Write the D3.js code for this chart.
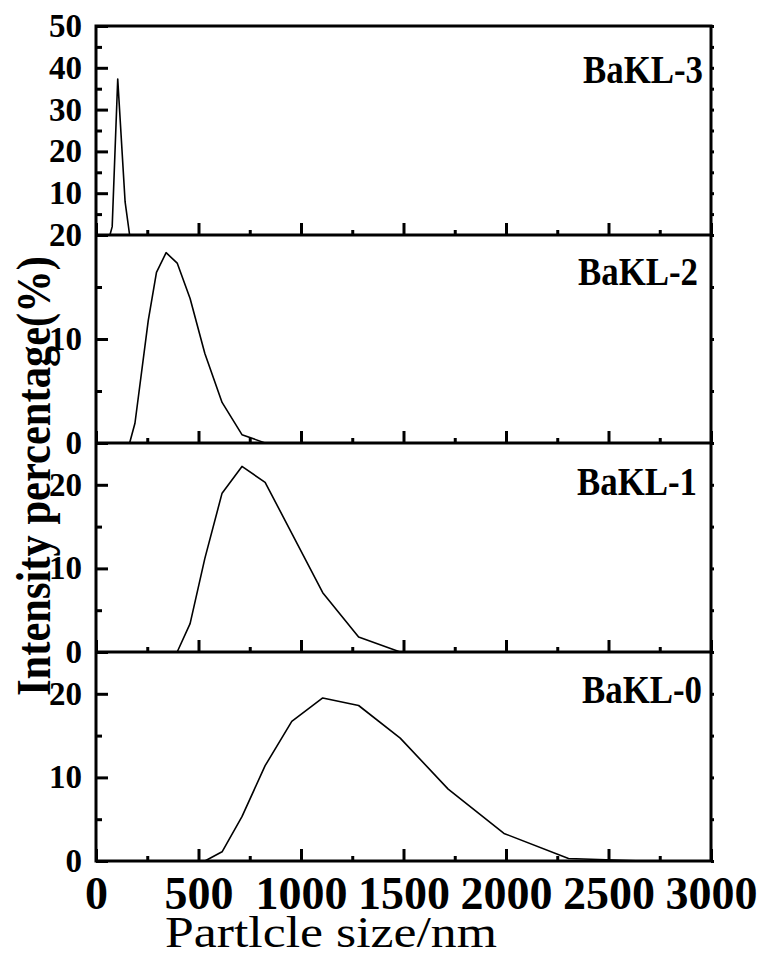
<!DOCTYPE html>
<html>
<head>
<meta charset="utf-8">
<script src="https://cdn.jsdelivr.net/npm/d3@7"></script>
<style>
  body { margin: 0; background: #fff; }
  svg { display: block; }
  text { font-family: "Liberation Serif", "Times New Roman", serif; }
</style>
</head>
<body>
<svg id="chart" width="764" height="969"></svg>
<script>
const width = 764, height = 969;

// data (size in nm, intensity in %)
const sizes3 = [68, 79, 106, 142, 164];
const vals3  = [0, 2.0, 37.3, 7.9, 0];
const sizes2 = [164, 190, 255, 295, 342, 396, 459, 531, 615, 712, 825];
const vals2  = [0, 1.9, 11.8, 16.4, 18.3, 17.3, 13.9, 8.6, 3.9, 0.8, 0];
const sizes1 = [396, 459, 531, 615, 712, 825, 1106, 1281, 1484];
const vals1  = [0, 3.4, 11.2, 19.0, 22.2, 20.3, 7.1, 1.8, 0];
const sizes0 = [531, 615, 712, 825, 955, 1106, 1281, 1484, 1718, 1990, 2305, 2669];
const vals0  = [0, 1.1, 5.3, 11.4, 16.7, 19.5, 18.6, 14.7, 8.6, 3.3, 0.3, 0];

const names = ["BaKL-3", "BaKL-2", "BaKL-1", "BaKL-0"];
const yMax = [50, 20, 25, 25];
const yLabels = [[10, 20, 30, 40, 50], [0, 10, 20], [0, 10, 20], [0, 10, 20]];
const xTicks = [0, 500, 1000, 1500, 2000, 2500, 3000];

const series = [
  { x: sizes3, y: vals3 },
  { x: sizes2, y: vals2 },
  { x: sizes1, y: vals1 },
  { x: sizes0, y: vals0 }
];

const left = 96, right = 711;
const tops = [26, 235, 443, 652];
const bottoms = [235, 443, 652, 861];

const svg = d3.select("#chart");
svg.append("rect").attr("width", width).attr("height", height).attr("fill", "#fff");

const x = d3.scaleLinear().domain([0, 3000]).range([left, right]);
const xMinor = d3.range(250, 3000, 500);

series.forEach((s, i) => {
  const y = d3.scaleLinear().domain([0, yMax[i]]).range([bottoms[i], tops[i]]);
  const minor = d3.range(5, yMax[i] + 0.1, 10);
  const allY = d3.range(0, yMax[i] + 0.1, 5);
  const g = svg.append("g");

  // curve
  const pts = s.x.map((v, k) => [v, s.y[k]]);
  g.append("path")
    .datum(pts)
    .attr("fill", "none")
    .attr("stroke", "#000")
    .attr("stroke-width", 1.6)
    .attr("stroke-linejoin", "round")
    .attr("d", d3.line().x(d => x(d[0])).y(d => y(d[1])));

  // left axis, ticks pointing in
  const la = g.append("g").attr("transform", `translate(${left},0)`)
    .call(d3.axisLeft(y).tickValues(yLabels[i]).tickSize(-12).tickPadding(14).tickFormat(d3.format("d")));
  la.append("g").call(d3.axisLeft(y).tickValues(minor).tickSize(-6).tickFormat(""));

  // bottom axis ticks pointing up
  const ba = g.append("g").attr("transform", `translate(0,${bottoms[i]})`)
    .call(d3.axisBottom(x).tickValues(xTicks).tickSize(-12).tickFormat(i === 3 ? d3.format("d") : "").tickPadding(15));
  ba.append("g").call(d3.axisBottom(x).tickValues(xMinor).tickSize(-5).tickFormat(""));

  // right axis, tiny outward nubs
  g.append("g").attr("transform", `translate(${right},0)`)
    .call(d3.axisRight(y).tickValues(allY).tickSize(3).tickFormat(""));

  g.selectAll(".domain").remove();
  g.selectAll(".tick line").attr("stroke", "#000").attr("stroke-width", 3);
  la.selectAll(".tick text")
    .attr("fill", "#000")
    .style("font-size", "33px")
    .style("font-weight", "bold");
  ba.selectAll(".tick text")
    .attr("fill", "#000")
    .style("font-size", "46px")
    .style("font-weight", "bold");

  // sample name
  g.append("text")
    .attr("x", [703, 698, 697, 702][i])
    .attr("y", [83, 285, 495, 703][i])
    .attr("text-anchor", "end")
    .attr("textLength", 120)
    .attr("lengthAdjust", "spacingAndGlyphs")
    .style("font-size", "41px")
    .style("font-weight", "bold")
    .text(names[i]);
});

// frame and panel separators
svg.append("rect")
  .attr("x", left).attr("y", tops[0])
  .attr("width", right - left).attr("height", bottoms[3] - tops[0])
  .attr("fill", "none").attr("stroke", "#000").attr("stroke-width", 3);
svg.selectAll(".sep")
  .data(bottoms.slice(0, 3))
  .enter()
  .append("line")
  .attr("x1", left).attr("x2", right)
  .attr("y1", d => d).attr("y2", d => d)
  .attr("stroke", "#000").attr("stroke-width", 3);

// axis titles
svg.append("text")
  .attr("transform", "translate(50,476) rotate(-90)")
  .attr("text-anchor", "middle")
  .attr("textLength", 440)
  .attr("lengthAdjust", "spacingAndGlyphs")
  .style("font-size", "49px")
  .style("font-weight", "bold")
  .text("Intensity percentage(%)");

svg.append("text")
  .attr("x", 165).attr("y", 947)
  .attr("textLength", 332)
  .attr("lengthAdjust", "spacingAndGlyphs")
  .style("font-size", "44px")
  .text("Partlcle size/nm");
</script>
</body>
</html>
